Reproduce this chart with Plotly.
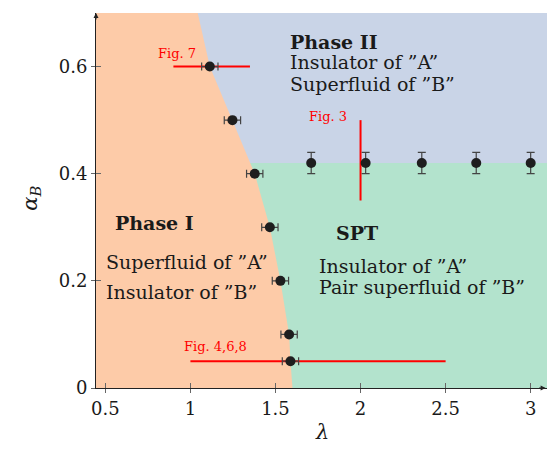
import plotly.graph_objects as go

# ---- data ----
boundary_lambda = [1.60, 1.588, 1.580, 1.529, 1.467, 1.378, 1.247, 1.114, 1.043]
boundary_alpha = [0.0, 0.05, 0.10, 0.20, 0.30, 0.40, 0.50, 0.60, 0.70]
spt_alpha = 0.42

pts1_lambda = [1.114, 1.247, 1.378, 1.467, 1.529, 1.580, 1.588]
pts1_alpha = [0.60, 0.50, 0.40, 0.30, 0.20, 0.10, 0.05]
pts1_err = 0.048

pts2_lambda = [1.71, 2.03, 2.36, 2.68, 3.0]
pts2_alpha = [0.42, 0.42, 0.42, 0.42, 0.42]
pts2_err = 0.02

fig7_lambda = [0.9, 1.35]; fig7_alpha = [0.6, 0.6]
fig3_lambda = [2.0, 2.0]; fig3_alpha = [0.35, 0.5]
fig468_lambda = [1.0, 2.5]; fig468_alpha = [0.05, 0.05]

xticks = [0.5, 1, 1.5, 2, 2.5, 3]
xticklabels = ["0.5", "1", "1.5", "2", "2.5", "3"]
yticks = [0, 0.2, 0.4, 0.6]
yticklabels = ["0", "0.2", "0.4", "0.6"]

XMIN, XMAX = 0.445, 3.096
YMIN, YMAX = 0.0, 0.7

ORANGE = "#fdcba8"
BLUE = "#c9d4e7"
GREEN = "#b3e3cd"
RED = "#ff0000"
FONT = "DejaVu Serif"

fig = go.Figure()

# green (SPT) region: full width below spt_alpha
fig.add_trace(go.Scatter(
    x=[XMIN, XMAX, XMAX, XMIN], y=[YMIN, YMIN, spt_alpha, spt_alpha],
    fill="toself", fillcolor=GREEN, line=dict(width=0), mode="lines",
    hoverinfo="skip", showlegend=False))

# orange (Phase I) region
fig.add_trace(go.Scatter(
    x=[XMIN] + boundary_lambda + [XMIN],
    y=[YMIN] + boundary_alpha + [YMAX],
    fill="toself", fillcolor=ORANGE, line=dict(width=0), mode="lines",
    hoverinfo="skip", showlegend=False))

# red lines
for lx, ly in [(fig7_lambda, fig7_alpha), (fig3_lambda, fig3_alpha), (fig468_lambda, fig468_alpha)]:
    fig.add_trace(go.Scatter(x=lx, y=ly, mode="lines",
                             line=dict(color=RED, width=2), showlegend=False, hoverinfo="skip"))

# points
fig.add_trace(go.Scatter(
    x=pts1_lambda, y=pts1_alpha, mode="markers",
    marker=dict(color="#1e1e1e", size=10),
    error_x=dict(type="constant", value=pts1_err, color="#444", thickness=1.2, width=4),
    showlegend=False))
fig.add_trace(go.Scatter(
    x=pts2_lambda, y=pts2_alpha, mode="markers",
    marker=dict(color="#1e1e1e", size=10),
    error_y=dict(type="constant", value=pts2_err, color="#444", thickness=1.2, width=4),
    showlegend=False))

# invisible trace for inside-tick overlay axes
fig.add_trace(go.Scatter(x=[XMIN], y=[YMIN], xaxis="x2", yaxis="y2", mode="markers",
                         marker=dict(opacity=0), showlegend=False, hoverinfo="skip"))

def txt(x, y, s, size=19, bold=False, color="#1a1a1a"):
    if bold:
        s = "<b>" + s + "</b>"
    fig.add_annotation(x=x, y=y, text=s, showarrow=False, xanchor="left", yanchor="middle",
                       font=dict(family=FONT, size=size, color=color))

txt(1.575, 0.646, "Phase II", bold=True)
txt(1.572, 0.609, "Insulator of ”A”")
txt(1.572, 0.568, "Superfluid of ”B”")

txt(0.545, 0.308, "Phase I", bold=True)
txt(0.490, 0.236, "Superfluid of ”A”")
txt(0.490, 0.179, "Insulator of ”B”")

txt(1.845, 0.289, "SPT", bold=True)
txt(1.745, 0.228, "Insulator of ”A”")
txt(1.745, 0.188, "Pair superfluid of ”B”")

txt(0.795, 0.625, "Fig. 7", size=13, color=RED)
txt(1.688, 0.507, "Fig. 3", size=13, color=RED)
txt(0.950, 0.078, "Fig. 4,6,8", size=13, color=RED)

# axis titles
fig.add_annotation(xref="paper", yref="paper", x=0.501, y=-0.117, text="<i>λ</i>",
                   xanchor="center", yanchor="middle",
                   showarrow=False, font=dict(family=FONT, size=21, color="#1a1a1a"))
fig.add_annotation(xref="paper", yref="paper", x=-0.146, y=0.505, text="<i>α</i><sub><i>B</i></sub>",
                   xanchor="center", yanchor="middle",
                   textangle=-90, showarrow=False, font=dict(family=FONT, size=21, color="#1a1a1a"))

# axis arrows
fig.add_annotation(xref="paper", yref="paper", x=0, y=1.0, ax=0, ay=8, axref="pixel", ayref="pixel",
                   showarrow=True, arrowhead=2, arrowsize=1, arrowwidth=1, arrowcolor="#222", text="")
fig.add_annotation(xref="paper", yref="paper", x=0.997, y=0, ax=-8, ay=0,
                   showarrow=True, arrowhead=2, arrowsize=1, arrowwidth=1, arrowcolor="#222", text="")

axis_common = dict(showgrid=False, zeroline=False)
fig.update_layout(
    width=547, height=449,
    margin=dict(l=96, r=0, t=13, b=61),
    paper_bgcolor="white", plot_bgcolor=BLUE,
    xaxis=dict(range=[XMIN, XMAX], tickvals=xticks, ticktext=xticklabels, ticks="outside",
               ticklen=4, tickcolor="#666", showline=True, linecolor="#222", linewidth=1,
               tickfont=dict(family=FONT, size=18, color="#1a1a1a"), **axis_common),
    yaxis=dict(range=[YMIN, YMAX], tickvals=yticks, ticktext=yticklabels, ticks="outside",
               ticklen=4, tickcolor="#666", showline=True, linecolor="#222", linewidth=1,
               tickfont=dict(family=FONT, size=18, color="#1a1a1a"), **axis_common),
    xaxis2=dict(overlaying="x", matches="x", range=[XMIN, XMAX], tickvals=xticks, ticks="inside",
                ticklen=5, tickcolor="#666", showticklabels=False, showline=False, **axis_common),
    yaxis2=dict(overlaying="y", matches="y", range=[YMIN, YMAX], tickvals=yticks, ticks="inside",
                ticklen=5, tickcolor="#666", showticklabels=False, showline=False, **axis_common),
)

fig.write_html("out.html")
